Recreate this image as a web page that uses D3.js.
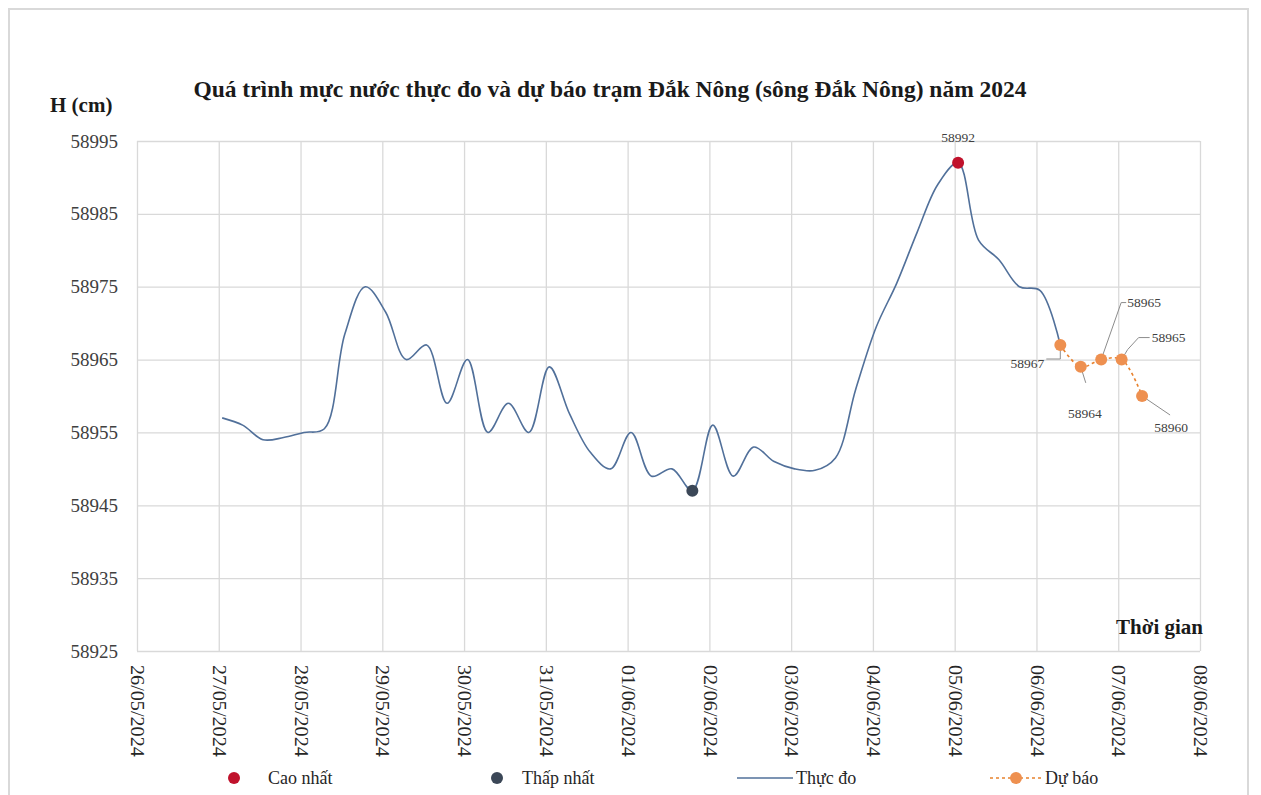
<!DOCTYPE html>
<html>
<head>
<meta charset="utf-8">
<script src="https://cdn.jsdelivr.net/npm/d3@7"></script>
<style>
  body { margin: 0; background: #fff; }
  text { font-family: "Liberation Serif", "Times New Roman", serif; }
</style>
</head>
<body>
<div id="water-chart"></div>
<script>
// observed levels, 4 readings a day (01h, 07h, 13h, 19h)
var obsTimes = [
  "27/05/2024 01", "27/05/2024 07", "27/05/2024 13", "27/05/2024 19",
  "28/05/2024 01", "28/05/2024 07", "28/05/2024 13", "28/05/2024 19",
  "29/05/2024 01", "29/05/2024 07", "29/05/2024 13", "29/05/2024 19",
  "30/05/2024 01", "30/05/2024 07", "30/05/2024 13", "30/05/2024 19",
  "31/05/2024 01", "31/05/2024 07", "31/05/2024 13", "31/05/2024 19",
  "01/06/2024 01", "01/06/2024 07", "01/06/2024 13", "01/06/2024 19",
  "02/06/2024 01", "02/06/2024 07", "02/06/2024 13", "02/06/2024 19",
  "03/06/2024 01", "03/06/2024 07", "03/06/2024 13", "03/06/2024 19",
  "04/06/2024 01", "04/06/2024 07", "04/06/2024 13", "04/06/2024 19",
  "05/06/2024 01", "05/06/2024 07", "05/06/2024 13", "05/06/2024 19",
  "06/06/2024 01", "06/06/2024 07"
]
var obsValues = [
  58957, 58956, 58954, 58954.3,
  58955, 58955.5, 58968.5, 58975,
  58971.5, 58965, 58967, 58959,
  58965, 58955, 58959, 58955,
  58964, 58957.5, 58952.3, 58950,
  58955, 58949, 58950, 58947,
  58956, 58949, 58953, 58951,
  58950, 58949.8, 58951.5, 58961,
  58969.5, 58975.5, 58982.5, 58989,
  58992, 58981.4, 58978.7, 58975,
  58974.5, 58967
]
// forecast
var fcTimes = ["06/06/2024 07", "06/06/2024 13", "06/06/2024 19", "07/06/2024 01", "07/06/2024 07"]
var fcValues = [58967, 58964, 58965, 58965, 58960]

var dateTicks = ["26/05/2024", "27/05/2024", "28/05/2024", "29/05/2024", "30/05/2024",
                 "31/05/2024", "01/06/2024", "02/06/2024", "03/06/2024", "04/06/2024",
                 "05/06/2024", "06/06/2024", "07/06/2024", "08/06/2024"]
var levelTicks = [58925, 58935, 58945, 58955, 58965, 58975, 58985, 58995]

var titleText = "Quá trình mực nước thực đo và dự báo trạm Đắk Nông (sông Đắk Nông) năm 2024"
var legendNames = ["Cao nhất", "Thấp nhất", "Thực đo", "Dự báo"]

var parseHour = d3.timeParse("%d/%m/%Y %H")
var parseDay = d3.timeParse("%d/%m/%Y")

var obs = obsTimes.map(function(t, i){ return [parseHour(t), obsValues[i]] })
var fc = fcTimes.map(function(t, i){ return [parseHour(t), fcValues[i]] })
var tickDates = dateTicks.map(parseDay)

var w = 1261
var h = 795
var plotL = 137, plotR = 1200, plotT = 141, plotB = 651

var svg = d3.select("#water-chart")
    .append("svg")
    .attr("width", w)
    .attr("height", h)
    .style("background-color", "white")

// outer frame
svg.append("rect")
    .attr("x", 9).attr("y", 9)
    .attr("width", 1239).attr("height", 800)
    .attr("fill", "none")
    .attr("stroke", "#d9d9d9")
    .attr("stroke-width", 2)

var x = d3.scaleTime()
    .domain([tickDates[0], tickDates[tickDates.length - 1]])
    .range([plotL, plotR])
var y = d3.scaleLinear()
    .domain([levelTicks[0], levelTicks[levelTicks.length - 1]])
    .range([plotB, plotT])

// y axis + horizontal grid
var yAxis = svg.append("g")
    .attr("transform", "translate(" + plotL + ",0)")
    .call(d3.axisLeft(y).tickValues(levelTicks).tickSize(-(plotR - plotL)).tickPadding(19).tickFormat(d3.format("d")))
yAxis.select(".domain").remove()
yAxis.selectAll("line").attr("stroke", "#d9d9d9").attr("stroke-width", 1.3)
yAxis.selectAll("text")
    .attr("font-size", 19)
    .attr("fill", "#404040")
    .attr("font-family", "Liberation Serif")

// x axis + vertical grid
var xAxis = svg.append("g")
    .attr("transform", "translate(0," + plotB + ")")
    .call(d3.axisBottom(x).tickValues(tickDates).tickSize(-(plotB - plotT)).tickFormat(d3.timeFormat("%d/%m/%Y")))
xAxis.select(".domain").remove()
xAxis.selectAll("line").attr("stroke", "#d9d9d9").attr("stroke-width", 1.3)
xAxis.selectAll("text")
    .attr("font-size", 18)
    .attr("font-family", "Liberation Serif")
    .attr("fill", "#262626")
    .attr("text-anchor", "start")
    .attr("x", 0)
    .attr("y", 0)
    .attr("dy", "0.35em")
    .attr("transform", "translate(0,14) rotate(90) scale(1.12,1)")

// observed line
var line = d3.line()
    .x(function(d){ return x(d[0]) })
    .y(function(d){ return y(d[1]) })
    .curve(d3.curveCatmullRom)

svg.append("path")
    .datum(obs)
    .attr("fill", "none")
    .attr("stroke", "#51709a")
    .attr("stroke-width", 1.6)
    .attr("d", line)

// forecast line
svg.append("path")
    .datum(fc)
    .attr("fill", "none")
    .attr("stroke", "#e8822e")
    .attr("stroke-width", 1.6)
    .attr("stroke-dasharray", "3,3")
    .attr("d", line)

// forecast labels: text offset and leader bend relative to the point
var fcLabelPos = [
    { tx: -16, ty: 18, anchor: "end", bend: [[0, 14], [-14, 14]] },
    { tx: 4, ty: 46, anchor: "middle", bend: [[5, 16]] },
    { tx: 26, ty: -57, anchor: "start", bend: [[20, -57], [25, -57]] },
    { tx: 30, ty: -22, anchor: "start", bend: [[6, -10], [17, -22], [28, -22]] },
    { tx: 29, ty: 31, anchor: "middle", bend: [[28, 19]] }
]

fc.forEach(function(d, i){
    var px = x(d[0]), py = y(d[1]), p = fcLabelPos[i]
    var pts = [[px, py]].concat(p.bend.map(function(b){ return [px + b[0], py + b[1]] }))
    svg.append("path")
        .attr("d", d3.line()(pts))
        .attr("fill", "none")
        .attr("stroke", "#8c8c8c")
        .attr("stroke-width", 1)
    svg.append("text")
        .attr("x", px + p.tx)
        .attr("y", py + p.ty)
        .attr("dy", "0.35em")
        .attr("text-anchor", p.anchor)
        .attr("font-size", 13.5)
        .attr("fill", "#404040")
        .text(d3.format("d")(d[1]))
})

svg.selectAll("circle.fc")
    .data(fc)
    .enter()
    .append("circle")
    .attr("class", "fc")
    .attr("cx", function(d){ return x(d[0]) })
    .attr("cy", function(d){ return y(d[1]) })
    .attr("r", 6)
    .attr("fill", "#ee9050")

// highest and lowest observed points
var maxPt = obs[d3.maxIndex(obs, function(d){ return d[1] })]
var minPt = obs[d3.minIndex(obs, function(d){ return d[1] })]

svg.append("circle")
    .attr("cx", x(maxPt[0])).attr("cy", y(maxPt[1]))
    .attr("r", 6).attr("fill", "#c0122c")
svg.append("text")
    .attr("x", x(maxPt[0]))
    .attr("y", y(maxPt[1]) - 21)
    .attr("text-anchor", "middle")
    .attr("font-size", 13.5)
    .attr("fill", "#404040")
    .text(d3.format("d")(maxPt[1]))

svg.append("circle")
    .attr("cx", x(minPt[0])).attr("cy", y(minPt[1]))
    .attr("r", 6).attr("fill", "#3b4757")

// titles
svg.append("text")
    .attr("x", 610).attr("y", 97)
    .attr("text-anchor", "middle")
    .attr("font-size", 23.5)
    .attr("font-weight", "bold")
    .attr("fill", "#1a1a1a")
    .text(titleText)

svg.append("text")
    .attr("x", 50).attr("y", 112)
    .attr("font-size", 21)
    .attr("font-weight", "bold")
    .attr("fill", "#1a1a1a")
    .text("H (cm)")

svg.append("text")
    .attr("x", 1203).attr("y", 634)
    .attr("text-anchor", "end")
    .attr("font-size", 21)
    .attr("font-weight", "bold")
    .attr("fill", "#1a1a1a")
    .text("Thời gian")

// legend
var legY = 778
var lg = svg.append("g").attr("font-size", 18).attr("fill", "#262626")
lg.append("circle").attr("cx", 234).attr("cy", legY).attr("r", 6).attr("fill", "#c0122c")
lg.append("text").attr("x", 268).attr("y", legY).attr("dy", "0.35em").text(legendNames[0])
lg.append("circle").attr("cx", 497).attr("cy", legY).attr("r", 6).attr("fill", "#3b4757")
lg.append("text").attr("x", 522).attr("y", legY).attr("dy", "0.35em").text(legendNames[1])
lg.append("line").attr("x1", 737).attr("x2", 793).attr("y1", legY).attr("y2", legY)
    .attr("stroke", "#51709a").attr("stroke-width", 1.6)
lg.append("text").attr("x", 796).attr("y", legY).attr("dy", "0.35em").text(legendNames[2])
lg.append("line").attr("x1", 990).attr("x2", 1042).attr("y1", legY).attr("y2", legY)
    .attr("stroke", "#e8822e").attr("stroke-width", 1.6).attr("stroke-dasharray", "3,3")
lg.append("circle").attr("cx", 1016).attr("cy", legY).attr("r", 6).attr("fill", "#ee9050")
lg.append("text").attr("x", 1045).attr("y", legY).attr("dy", "0.35em").text(legendNames[3])
</script>
</body>
</html>
